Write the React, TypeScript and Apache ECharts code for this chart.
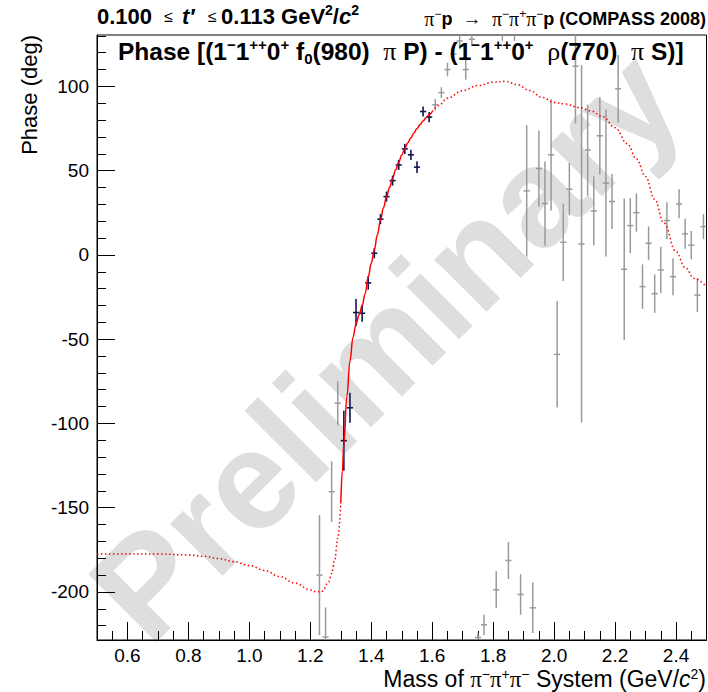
import React, { useEffect, useRef } from 'react';
import * as echarts from 'echarts';

// ---------- data ----------
// fitted-range points (navy)
const fitMass = [1.31, 1.33, 1.35, 1.37, 1.39, 1.41, 1.43, 1.45, 1.47, 1.49, 1.51, 1.53, 1.55, 1.57, 1.59];
const fitPhase = [-110.2, -90.7, -34.2, -34.6, -16.6, 1.0, 21.2, 34.6, 44.1, 53.4, 62.9, 59.4, 52.1, 85.1, 81.8];
const fitErr = [17.8, 8.9, 8, 5, 4, 3, 3, 3, 3, 3, 3, 3, 3.5, 3, 3];

// points outside the fit range (grey)
const outMass = [
  1.23, 1.25, 1.27, 1.29, 1.61, 1.63, 1.65, 1.67, 1.69, 1.71, 1.73, 1.75, 1.77, 1.81, 1.83, 1.85, 1.87, 1.89,
  1.91, 1.93, 1.95, 1.97, 1.99, 2.01, 2.03, 2.05, 2.07, 2.09, 2.11, 2.13, 2.15, 2.17, 2.19, 2.21, 2.23, 2.25,
  2.27, 2.29, 2.31, 2.33, 2.35, 2.37, 2.39, 2.41, 2.43, 2.45, 2.47, 2.49,
];
const outPhase = [
  -190, -226.7, -140.5, -88, 89.1, 96.3, 110, 119.2, 127, 110, 128, -227, -219.5, -198.7, 134, -181.3, 134, -201.5,
  38, -209.4, 51.3, 30.5, 59.4, -59, 7.5, 39, 112, 6.5, 62.2, 26.1, 70.7, 42.6, 31.7, 98.6, -8.5, 17.4,
  25.1, -18.8, 6.9, -23, -8.9, 20.4, -12.9, 30.3, 12.5, 5.8, -23.9, 16.8,
];
const outErr = [
  35.6, 17.5, 18, 13, 3.4, 3.2, 4, 4.5, 5, 6, 4, 2.7, 6, 11, 7, 11, 7, 12,
  39, 15, 22.5, 25, 33, 31.5, 23, 15.6, 34, 106, 27, 20.5, 23, 43.5, 16.3, 20, 42, 16.3,
  11.4, 13.2, 10, 11.4, 13.8, 10.9, 11, 8.6, 8.9, 8.4, 10, 7.4,
];

// model curve (red)
const curveMass = [
  0.5, 0.6, 0.7, 0.8, 0.85, 0.9, 0.95, 1.0, 1.05, 1.1, 1.15, 1.2, 1.22, 1.24, 1.26, 1.27, 1.28, 1.29,
  1.3, 1.305, 1.31, 1.32, 1.33, 1.34, 1.35, 1.36, 1.37, 1.38, 1.39, 1.4, 1.41, 1.42, 1.43, 1.44, 1.45,
  1.46, 1.47, 1.48, 1.49, 1.5, 1.51, 1.52, 1.53, 1.54, 1.55, 1.56, 1.57, 1.58, 1.59, 1.6,
  1.62, 1.65, 1.7, 1.75, 1.8, 1.84, 1.88, 1.92, 1.96, 2.0, 2.04, 2.08, 2.12, 2.16, 2.2, 2.24, 2.27,
  2.3, 2.33, 2.36, 2.4, 2.43, 2.46, 2.5,
];
const curvePhase = [
  -177.5, -177.5, -177.5, -178, -178.8, -180.2, -182, -184.3, -187.2, -190.8, -194.8, -198.8, -200, -199.5, -194, -189, -181, -168,
  -147, -128, -112, -84, -63, -49, -41, -35.5, -30, -23, -13, -5, 3, 12, 20.5, 28, 34.5,
  40, 45.5, 50.5, 55, 59.3, 63, 66.5, 69.5, 72.3, 75, 77.3, 79.4, 81.4, 83.2, 85,
  88.5, 93, 97.5, 100.5, 102.5, 103, 101, 97.5, 93.5, 90.5, 89.5, 87.5, 85.5, 82, 75.5, 66, 57,
  46.5, 33, 19, 2, -7.5, -14, -19,
];
const fitLow = 1.3;
const fitHigh = 1.6;

// axes
const xMajorTicks = [0.6, 0.8, 1.0, 1.2, 1.4, 1.6, 1.8, 2.0, 2.2, 2.4];
const yMajorTicks = [-200, -150, -100, -50, 0, 50, 100];
const xMin = 0.5, xMax = 2.5;
const yMin = -228.5, yMax = 130.5;
const binHalf = 0.01;

const xMinorTicks: number[] = [];
for (let k = 11; k <= 49; k++) xMinorTicks.push(Math.round(k * 5) / 100);
const yMinorTicks: number[] = [];
for (let k = -22; k <= 13; k++) yMinorTicks.push(k * 10);

const FONT = '"Liberation Sans", Arial, Helvetica, sans-serif';
const SYM = '"Liberation Serif", "DejaVu Serif", serif';

function errRender(color: string, lw: number) {
  return (params: any, api: any) => {
    const m = api.value(0);
    const p = api.value(1);
    const e = api.value(2);
    const c = api.coord([m, p]);
    const l = api.coord([m - binHalf, p]);
    const r = api.coord([m + binHalf, p]);
    const t = api.coord([m, p + e]);
    const b = api.coord([m, p - e]);
    return {
      type: 'group',
      children: [
        { type: 'line', shape: { x1: l[0], y1: c[1], x2: r[0], y2: c[1] }, style: { stroke: color, lineWidth: lw } },
        { type: 'line', shape: { x1: c[0], y1: t[1], x2: c[0], y2: b[1] }, style: { stroke: color, lineWidth: lw } },
      ],
    };
  };
}

export default function App() {
  const ref = useRef<HTMLDivElement>(null);
  useEffect(() => {
    if (!ref.current) return;
    const chart = echarts.init(ref.current, null, { renderer: 'svg' });

    const solid: number[][] = [];
    const dotLeft: number[][] = [];
    const dotRight: number[][] = [];
    curveMass.forEach((m, i) => {
      const pt = [m, curvePhase[i]];
      if (m <= fitLow) dotLeft.push(pt);
      if (m >= fitLow && m <= fitHigh) solid.push(pt);
      if (m >= fitHigh) dotRight.push(pt);
    });

    const supStyle = (size: number, weight = 'bold') => ({
      fontSize: size, fontFamily: FONT, fontWeight: weight, color: '#000', verticalAlign: 'top', lineHeight: size,
    });

    const option: any = {
      animation: false,
      backgroundColor: '#fff',
      grid: { left: 97, right: 1.5, top: 35, bottom: 52, show: true, borderColor: '#000', borderWidth: 1, backgroundColor: 'transparent' },
      title: [
        {
          left: 97, top: 3, padding: 0,
          text: '{b|0.100  }{s|≤  }{i|t′}{s|   ≤ }{b|0.113 GeV}{sup|2}{b|/}{i|c}{sup|2}',
          textStyle: {
            rich: {
              b: { fontSize: 22, fontWeight: 'bold', fontFamily: FONT, color: '#000', lineHeight: 26 },
              i: { fontSize: 22, fontWeight: 'bold', fontStyle: 'italic', fontFamily: FONT, color: '#000', lineHeight: 26 },
              s: { fontSize: 16, fontWeight: 'normal', fontFamily: FONT, color: '#000', lineHeight: 26 },
              sup: supStyle(14),
            },
          },
        },
        {
          right: 2, top: 8, padding: 0,
          text: '{p|π}{sup|−}{b|p  }{n|→  }{p|π}{sup|−}{p|π}{sup|+}{p|π}{sup|−}{b|p (COMPASS 2008)}',
          textStyle: {
            rich: {
              b: { fontSize: 18, fontWeight: 'bold', fontFamily: FONT, color: '#000', lineHeight: 21 },
              n: { fontSize: 19, fontWeight: 'normal', fontFamily: FONT, color: '#000', lineHeight: 21 },
              p: { fontSize: 20, fontWeight: 'normal', fontFamily: SYM, color: '#000', lineHeight: 21 },
              sup: supStyle(12, 'normal'),
            },
          },
        },
        {
          left: 118, top: 37, padding: 0,
          text: '{b|Phase [(1}{sup|−}{b|1}{sup|++}{b|0}{sup|+}{b| f}{sub|0}{b|(980)  }{p|π}{b| P) - (1}{sup|−}{b|1}{sup|++}{b|0}{sup|+}{b|  }{p|ρ}{b|(770)  }{p|π}{b| S)]}',
          textStyle: {
            rich: {
              b: { fontSize: 24.5, fontWeight: 'bold', fontFamily: FONT, color: '#000', lineHeight: 29 },
              p: { fontSize: 26, fontWeight: 'normal', fontFamily: SYM, color: '#000', lineHeight: 29 },
              sup: supStyle(15),
              sub: { fontSize: 15, fontWeight: 'bold', fontFamily: FONT, color: '#000', verticalAlign: 'bottom', lineHeight: 15 },
            },
          },
        },
        {
          right: 2, top: 667, padding: 0,
          text: '{n|Mass of }{p|π}{sup|−}{p|π}{sup|+}{p|π}{sup|−}{n| System (GeV/}{i|c}{sup|2}{n|)}',
          textStyle: {
            rich: {
              n: { fontSize: 23, fontWeight: 'normal', fontFamily: FONT, color: '#000', lineHeight: 24 },
              i: { fontSize: 23, fontWeight: 'normal', fontStyle: 'italic', fontFamily: FONT, color: '#000', lineHeight: 24 },
              p: { fontSize: 23, fontWeight: 'normal', fontFamily: SYM, color: '#000', lineHeight: 24 },
              sup: supStyle(14, 'normal'),
            },
          },
        },
      ],
      graphic: [
        {
          type: 'text', x: 385, y: 345, rotation: Math.PI / 4, z: -10, silent: true,
          style: {
            text: 'Preliminary', fill: '#dedede', font: `bold 140px ${FONT}`,
            align: 'center', verticalAlign: 'middle',
          },
        },
        {
          type: 'text', x: 29, y: 35, rotation: Math.PI / 2,
          style: { text: 'Phase (deg)', fill: '#000', font: `22px ${FONT}`, align: 'right', verticalAlign: 'middle' },
        },
      ],
      xAxis: [
        {
          type: 'value', min: xMin, max: xMax, position: 'bottom',
          axisLine: { show: true, onZero: false, lineStyle: { color: '#000', width: 1 } },
          axisTick: { show: true, inside: true, length: 9, customValues: xMinorTicks, lineStyle: { color: '#000', width: 1 } },
          axisLabel: { show: false }, splitLine: { show: false },
        },
        {
          type: 'value', min: xMin, max: xMax, position: 'bottom',
          axisLine: { show: false, onZero: false },
          axisTick: { show: true, inside: true, length: 18, customValues: xMajorTicks, lineStyle: { color: '#000', width: 1 } },
          axisLabel: {
            show: true, customValues: xMajorTicks, margin: 6, color: '#000', fontSize: 19, fontFamily: FONT,
            formatter: (v: number) => v.toFixed(1),
          },
          splitLine: { show: false },
        },
      ],
      yAxis: [
        {
          type: 'value', min: yMin, max: yMax, position: 'left',
          axisLine: { show: true, onZero: false, lineStyle: { color: '#000', width: 1 } },
          axisTick: { show: true, inside: true, length: 9, customValues: yMinorTicks, lineStyle: { color: '#000', width: 1 } },
          axisLabel: { show: false }, splitLine: { show: false },
        },
        {
          type: 'value', min: yMin, max: yMax, position: 'left',
          axisLine: { show: false, onZero: false },
          axisTick: { show: true, inside: true, length: 18, customValues: yMajorTicks, lineStyle: { color: '#000', width: 1 } },
          axisLabel: {
            show: true, customValues: yMajorTicks, margin: 8, color: '#000', fontSize: 19, fontFamily: FONT,
          },
          splitLine: { show: false },
        },
      ],
      series: [
        {
          type: 'custom', name: 'outside fit', xAxisIndex: 0, yAxisIndex: 0, clip: true, z: 2,
          renderItem: errRender('#9a9a9a', 1.5),
          encode: { x: 0, y: 1 },
          data: outMass.map((m, i) => [m, outPhase[i], outErr[i]]),
        },
        {
          type: 'custom', name: 'fit range', xAxisIndex: 0, yAxisIndex: 0, clip: true, z: 3,
          renderItem: errRender('#141450', 1.6),
          encode: { x: 0, y: 1 },
          data: fitMass.map((m, i) => [m, fitPhase[i], fitErr[i]]),
        },
        {
          type: 'line', name: 'model', xAxisIndex: 0, yAxisIndex: 0, data: solid, showSymbol: false, symbol: 'none',
          smooth: 0.4, smoothMonotone: 'x', z: 4, clip: true,
          lineStyle: { color: '#ff0000', width: 1.5 },
        },
        {
          type: 'line', name: 'model ext low', xAxisIndex: 0, yAxisIndex: 0, data: dotLeft, showSymbol: false, symbol: 'none',
          smooth: 0.4, smoothMonotone: 'x', z: 4, clip: true,
          lineStyle: { color: '#ff0000', width: 1.5, type: [1.5, 2.5] },
        },
        {
          type: 'line', name: 'model ext high', xAxisIndex: 0, yAxisIndex: 0, data: dotRight, showSymbol: false, symbol: 'none',
          smooth: 0.4, smoothMonotone: 'x', z: 4, clip: true,
          lineStyle: { color: '#ff0000', width: 1.5, type: [1.5, 2.5] },
        },
      ],
    };
    chart.setOption(option);
    return () => chart.dispose();
  }, []);
  return <div ref={ref} style={{ width: 708, height: 692, position: 'absolute', left: 0, top: 0 }} />;
}
